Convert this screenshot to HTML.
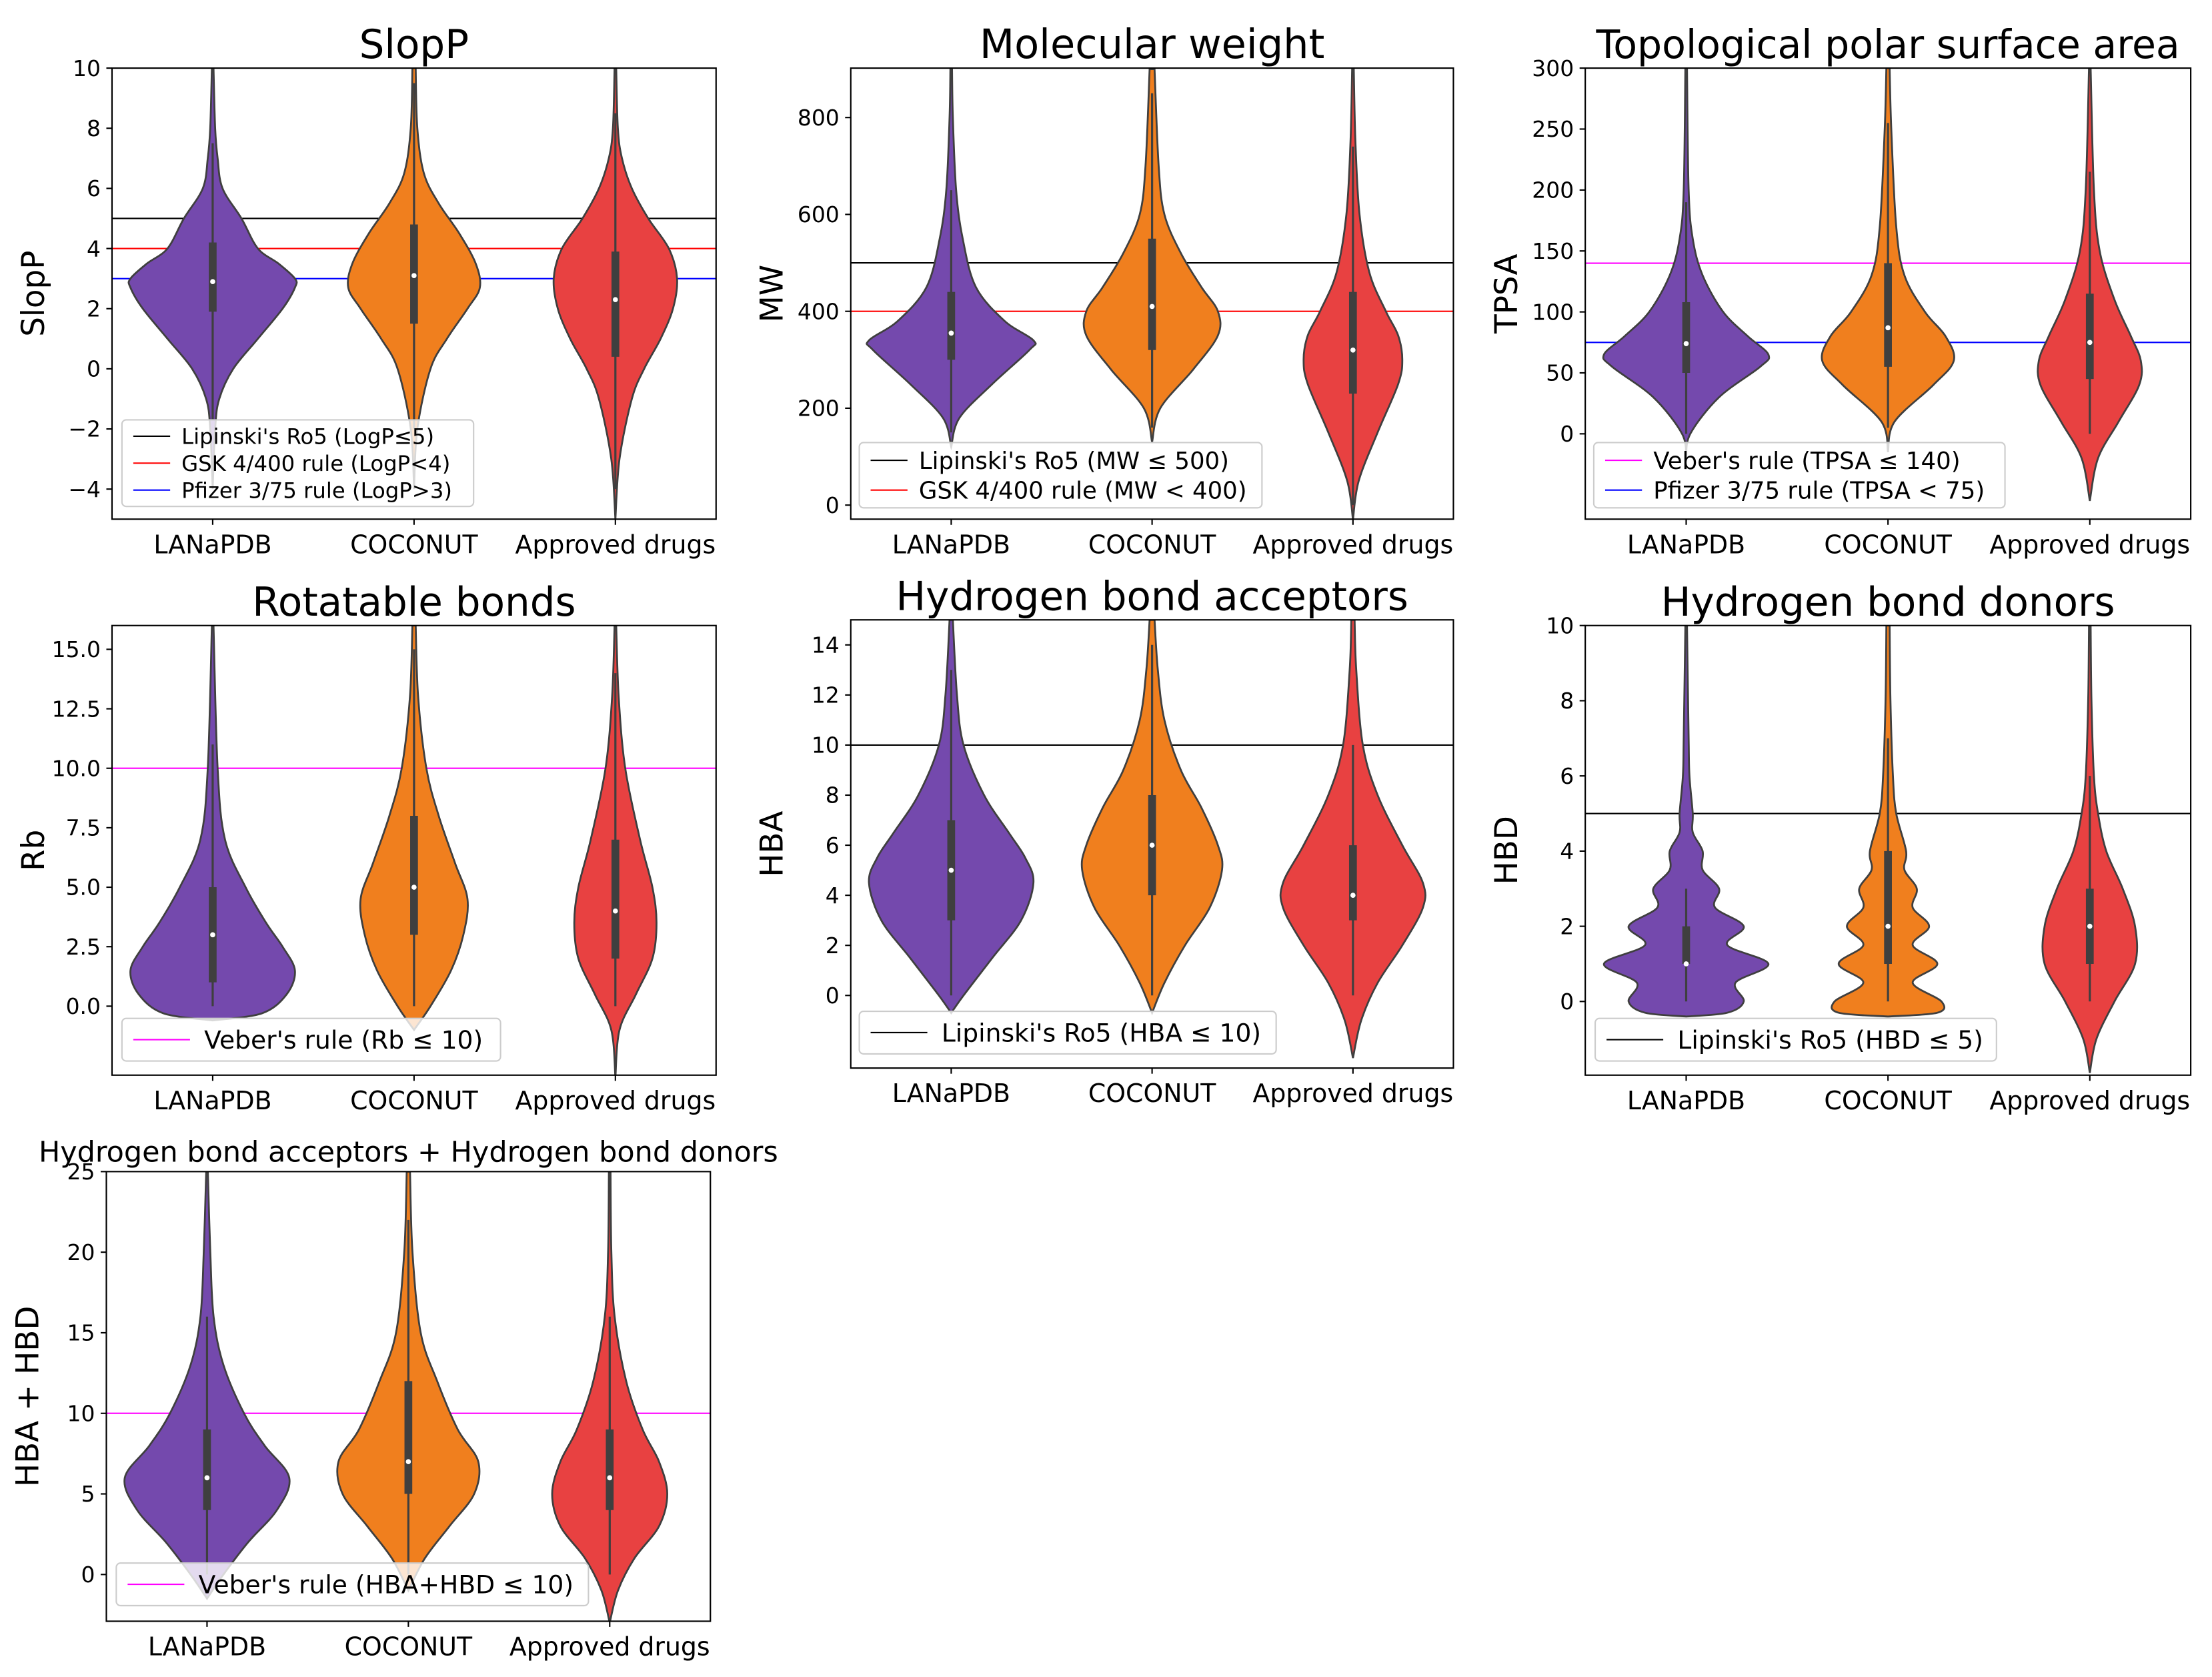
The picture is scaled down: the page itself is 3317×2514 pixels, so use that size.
<!DOCTYPE html>
<html><head><meta charset="utf-8"><style>
html,body{margin:0;padding:0;background:#fff}
svg{display:block}
text{font-family:"DejaVu Sans","Liberation Sans",sans-serif;fill:#000}
</style></head><body>
<svg id="fig" width="3317" height="2514" viewBox="0 0 1560 1182.3" xmlns="http://www.w3.org/2000/svg"></svg>
<script>
const categories = ["LANaPDB","COCONUT","Approved drugs"];
const colors = ["#7449ad","#f07f1e","#e84141"];

// density profiles: [value, relative half-width]
const slogpProfiles = [
 [[-4,0],[-2,0.03],[-1,0.08],[0,0.25],[1,0.55],[2,0.85],[2.7,1.0],[3,1.0],[3.5,0.8],[4,0.55],[5,0.35],[6,0.12],[7,0.06],[8,0.03],[10,0.01]],
 [[-4,0],[-2,0.04],[0,0.2],[1,0.4],[2,0.65],[2.7,0.8],[3.5,0.75],[4.5,0.55],[5.5,0.3],[6.5,0.12],[8,0.04],[10,0.02]],
 [[-5,0],[-3,0.05],[-1,0.2],[0,0.35],[1,0.55],[2,0.7],[3,0.75],[4,0.65],[5,0.4],[6,0.2],[7,0.08],[8,0.03],[10,0.01]]];
const slogpBoxes = [[-1.7,1.9,2.9,4.2,7.5],[-2,1.5,3.1,4.8,9.5],[-4,0.4,2.3,3.9,8.5]];
const mwProfiles = [
 [[120,0],[180,0.1],[250,0.5],[320,0.95],[340,1.0],[380,0.65],[450,0.3],[550,0.14],[650,0.06],[800,0.02],[900,0.01]],
 [[130,0],[200,0.1],[280,0.5],[350,0.8],[400,0.8],[450,0.6],[520,0.35],[600,0.15],[700,0.08],[900,0.03]],
 [[-30,0],[50,0.07],[150,0.3],[250,0.55],[300,0.6],[350,0.55],[400,0.4],[480,0.2],[600,0.08],[750,0.03],[900,0.01]]];
const mwBoxes = [[150,300,355,440,650],[160,320,410,550,850],[0,230,320,440,740]];
const tpsaProfiles = [
 [[-20,0],[0,0.05],[30,0.4],[55,0.9],[65,1.0],[80,0.75],[100,0.45],[130,0.2],[160,0.08],[200,0.03],[300,0.01]],
 [[-15,0],[10,0.08],[40,0.55],[60,0.8],[80,0.7],[100,0.45],[130,0.2],[170,0.1],[250,0.04],[300,0.02]],
 [[-55,0],[-20,0.1],[10,0.35],[40,0.6],[60,0.62],[80,0.5],[110,0.3],[150,0.12],[200,0.05],[300,0.01]]];
const tpsaBoxes = [[0,50,74,108,190],[5,55,87,140,255],[0,45,75,115,215]];
const rbProfiles = [
 [[-0.6,0],[-0.3,0.6],[0.5,0.9],[1.5,1.0],[2.5,0.85],[3.5,0.65],[5,0.4],[7,0.15],[10,0.06],[16,0.01]],
 [[-1,0],[0,0.2],[1.5,0.45],[3,0.6],[4.5,0.65],[6,0.5],[8,0.3],[10,0.15],[13,0.05],[16,0.02]],
 [[-3,0],[-1,0.05],[0.5,0.25],[2,0.45],[3.5,0.5],[5,0.45],[7,0.3],[10,0.12],[13,0.04],[16,0.01]]];
const rbBoxes = [[0,1,3,5,11],[0,3,5,8,15],[0,2,4,7,14]];
const hbaProfiles = [
 [[-0.7,0],[0,0.15],[1.5,0.5],[3,0.85],[4.5,1.0],[5.5,0.9],[6.5,0.7],[8,0.4],[10,0.15],[12,0.07],[15,0.02]],
 [[-0.7,0],[0.5,0.15],[2,0.4],[3.5,0.7],[5,0.85],[6,0.8],[7.5,0.6],[9,0.35],[11,0.15],[13,0.07],[15,0.03]],
 [[-2.5,0],[-1,0.1],[0.5,0.3],[2,0.6],[3.5,0.85],[4.5,0.85],[6,0.6],[8,0.3],[10,0.12],[13,0.04],[15,0.02]]];
const hbaBoxes = [[0,3,5,7,13],[0,4,6,8,14],[0,3,4,6,10]];
const hbdProfiles = [
 [[-0.4,0],[-0.3,0.5],[0,0.7],[0.5,0.6],[1,1.0],[1.5,0.5],[2,0.7],[2.5,0.35],[3,0.4],[3.5,0.2],[4,0.2],[4.5,0.08],[5,0.08],[6,0.04],[7,0.03],[10,0.01]],
 [[-0.4,0],[-0.3,0.6],[0,0.65],[0.5,0.3],[1,0.6],[1.5,0.3],[2,0.5],[2.5,0.3],[3,0.35],[3.5,0.2],[4,0.22],[5,0.1],[6,0.06],[8,0.03],[10,0.02]],
 [[-1.9,0],[-1,0.08],[0,0.3],[1,0.55],[2,0.55],[3,0.4],[4,0.2],[5,0.1],[6,0.05],[8,0.02],[10,0.01]]];
const hbdBoxes = [[0,1,1,2,3],[0,1,2,4,7],[0,1,2,3,6]];
const sumProfiles = [
 [[-1.5,0],[0,0.2],[2,0.5],[4,0.85],[6,1.0],[8,0.7],[10,0.45],[13,0.2],[16,0.08],[20,0.04],[25,0.01]],
 [[-1,0],[1,0.2],[3,0.5],[5,0.8],[7,0.85],[9,0.6],[12,0.35],[15,0.15],[20,0.05],[25,0.02]],
 [[-3,0],[-1,0.1],[1,0.3],[3,0.6],[5,0.7],[7,0.6],[9,0.4],[12,0.2],[16,0.06],[20,0.02],[25,0.01]]];
const sumBoxes = [[0,4,6,9,16],[0,5,7,12,22],[0,4,6,9,16]];

const slogpTicks = [-4,-2,0,2,4,6,8,10];
const mwTicks = [0,200,400,600,800];
const tpsaTicks = [0,50,100,150,200,250,300];
const rbTicks = [0,2.5,5,7.5,10,12.5,15];
const hbaTicks = [0,2,4,6,8,10,12,14];
const hbdTicks = [0,2,4,6,8,10];
const sumTicks = [0,5,10,15,20,25];

const panels = [
 {name:"slogp",title:"SlopP",ylabel:"SlopP",x0:79,x1:505,y0:48,y1:366,ymin:-5,ymax:10,ticks:slogpTicks,fmt:v=>v<0?"\u2212"+(-v):String(v),prof:slogpProfiles,box:slogpBoxes,
  rules:[[5,"#000","Lipinski's Ro5 (LogP\u22645)"],[4,"#ff0000","GSK 4/400 rule (LogP<4)"],[3,"#0000ff","Pfizer 3/75 rule (LogP>3)"]],leg:[86,296,248],lfs:15.2,ts:28},
 {name:"mw",title:"Molecular weight",ylabel:"MW",x0:600,x1:1025,y0:48,y1:366,ymin:-29,ymax:902,ticks:mwTicks,fmt:String,prof:mwProfiles,box:mwBoxes,
  rules:[[500,"#000","Lipinski's Ro5 (MW \u2264 500)"],[400,"#ff0000","GSK 4/400 rule (MW < 400)"]],leg:[606,312,284],lfs:16.7,ts:28.5},
 {name:"tpsa",title:"Topological polar surface area",ylabel:"TPSA",x0:1118,x1:1545,y0:48,y1:366,ymin:-70,ymax:300,ticks:tpsaTicks,fmt:String,prof:tpsaProfiles,box:tpsaBoxes,
  rules:[[140,"#ff00ff","Veber's rule (TPSA \u2264 140)"],[75,"#0000ff","Pfizer 3/75 rule (TPSA < 75)"]],leg:[1124,312,290],lfs:16.7,ts:27.5},
 {name:"rb",title:"Rotatable bonds",ylabel:"Rb",x0:79,x1:505,y0:441,y1:758,ymin:-2.9,ymax:16,ticks:rbTicks,fmt:v=>v.toFixed(1),prof:rbProfiles,box:rbBoxes,
  rules:[[10,"#ff00ff","Veber's rule (Rb \u2264 10)"]],leg:[86,718,267],lfs:17.7,ts:28},
 {name:"hba",title:"Hydrogen bond acceptors",ylabel:"HBA",x0:600,x1:1025,y0:437,y1:753,ymin:-2.9,ymax:15,ticks:hbaTicks,fmt:String,prof:hbaProfiles,box:hbaBoxes,
  rules:[[10,"#000","Lipinski's Ro5 (HBA \u2264 10)"]],leg:[606,713,294],lfs:17.7,ts:28},
 {name:"hbd",title:"Hydrogen bond donors",ylabel:"HBD",x0:1118,x1:1545,y0:441,y1:758,ymin:-1.96,ymax:10,ticks:hbdTicks,fmt:String,prof:hbdProfiles,box:hbdBoxes,
  rules:[[5,"#000","Lipinski's Ro5 (HBD \u2264 5)"]],leg:[1125,718,283],lfs:17.7,ts:28},
 {name:"hba-hbd",title:"Hydrogen bond acceptors + Hydrogen bond donors",ylabel:"HBA + HBD",x0:75,x1:501,y0:826,y1:1143,ymin:-2.9,ymax:25,ticks:sumTicks,fmt:String,prof:sumProfiles,box:sumBoxes,
  rules:[[10,"#ff00ff","Veber's rule (HBA+HBD \u2264 10)"]],leg:[82,1102,333],lfs:17.7,ts:20.2}
];

const NS="http://www.w3.org/2000/svg";
const svg=document.getElementById('fig');
function mk(tag,attrs,parent){const e=document.createElementNS(NS,tag);for(const k in attrs)e.setAttribute(k,attrs[k]);(parent||svg).appendChild(e);return e;}
function smooth(pts){let d="M"+pts[0][0]+","+pts[0][1];for(let i=0;i<pts.length-1;i++){const p0=pts[Math.max(0,i-1)],p1=pts[i],p2=pts[i+1],p3=pts[Math.min(pts.length-1,i+2)];
 const c1=[p1[0]+(p2[0]-p0[0])/6,p1[1]+(p2[1]-p0[1])/6],c2=[p2[0]-(p3[0]-p1[0])/6,p2[1]-(p3[1]-p1[1])/6];
 d+=" C"+c1[0]+","+c1[1]+" "+c2[0]+","+c2[1]+" "+p2[0]+","+p2[1];}return d;}

panels.forEach((P,pi)=>{
 const g=mk('g',{});
 
 
 const y=v=>P.y1-(v-P.ymin)/(P.ymax-P.ymin)*(P.y1-P.y0);
 const w=P.x1-P.x0;
 const xc=i=>P.x0+w*(i+0.5)/3;
 const hw=58;
 const clip=mk('clipPath',{id:'clip'+pi},g);
 mk('rect',{x:P.x0,y:P.y0,width:w,height:P.y1-P.y0},clip);
 const plot=mk('g',{'clip-path':'url(#clip'+pi+')'},g);
 P.rules.forEach(r=>{const l=mk('line',{x1:P.x0,x2:P.x1,y1:y(r[0]),y2:y(r[0]),stroke:r[1],'stroke-width':1},plot);
  
  });
 categories.forEach((c,i)=>{
  const prof=P.prof[i];
  const right=prof.map(p=>[xc(i)+p[1]*hw,y(p[0])]);
  const left=prof.slice().reverse().map(p=>[xc(i)-p[1]*hw,y(p[0])]);
  const sl=smooth(left);
  const d=smooth(right)+" L"+left[0][0]+","+left[0][1]+sl.slice(sl.indexOf(" C"))+"Z";
  const v=mk('path',{d:d,fill:colors[i],stroke:'#3f3f3f','stroke-width':1.3},plot);
  
  
  const b=P.box[i];
  mk('line',{x1:xc(i),x2:xc(i),y1:y(b[0]),y2:y(b[4]),stroke:'#3f3f3f','stroke-width':1.5},plot);
  const bx=mk('line',{x1:xc(i),x2:xc(i),y1:y(b[1]),y2:y(b[3]),stroke:'#3f3f3f','stroke-width':5.5},plot);
  
  
  mk('circle',{cx:xc(i),cy:y(b[2]),r:1.8,fill:'#fff'},plot);
  const t=mk('text',{x:xc(i),y:P.y1+24,'text-anchor':'middle','font-size':17.8},g);t.textContent=c;
  
  
  mk('line',{x1:xc(i),x2:xc(i),y1:P.y1,y2:P.y1+4,stroke:'#000','stroke-width':1},g);
 });
 P.ticks.forEach(v=>{const yy=y(v);
  mk('line',{x1:P.x0-4,x2:P.x0,y1:yy,y2:yy,stroke:'#000','stroke-width':1},g);
  const t=mk('text',{x:P.x0-8,y:yy+5.5,'text-anchor':'end','font-size':15.5},g);t.textContent=P.fmt(v);
  
  });
 mk('rect',{x:P.x0,y:P.y0,width:w,height:P.y1-P.y0,fill:'none',stroke:'#000','stroke-width':1},g);
 const tt=mk('text',{x:P.x0+w/2,y:P.y0-7,'text-anchor':'middle','font-size':P.ts},g);tt.textContent=P.title;
 
 
 const yl=mk('text',{x:0,y:0,'text-anchor':'middle','font-size':22,transform:'translate('+(P.x0-48)+','+((P.y0+P.y1)/2)+') rotate(-90)'},g);yl.textContent=P.ylabel;
 
 
 const [lx,ly,lw]=P.leg;const single=P.rules.length===1;const rh=single?30:(P.rules.length===3?19:21);
 const lg=mk('g',{},g);
 
 
 mk('rect',{x:lx,y:ly,width:lw,height:P.rules.length*rh+(single?0:4),fill:'#fff','fill-opacity':0.8,stroke:'#ccc','stroke-width':1,rx:3},lg);
 P.rules.forEach((r,k)=>{const cy=ly+(single?0:2)+rh*(k+0.5);
  const lx2=single?lx+48:lx+34, tx=single?lx+58:lx+42;
  mk('line',{x1:lx+8,x2:lx2,y1:cy,y2:cy,stroke:r[1],'stroke-width':1},lg);
  const t=mk('text',{x:tx,y:cy+P.lfs*0.36,'font-size':P.lfs},lg);t.textContent=r[2];
  
  });
});
</script>
</body></html>
